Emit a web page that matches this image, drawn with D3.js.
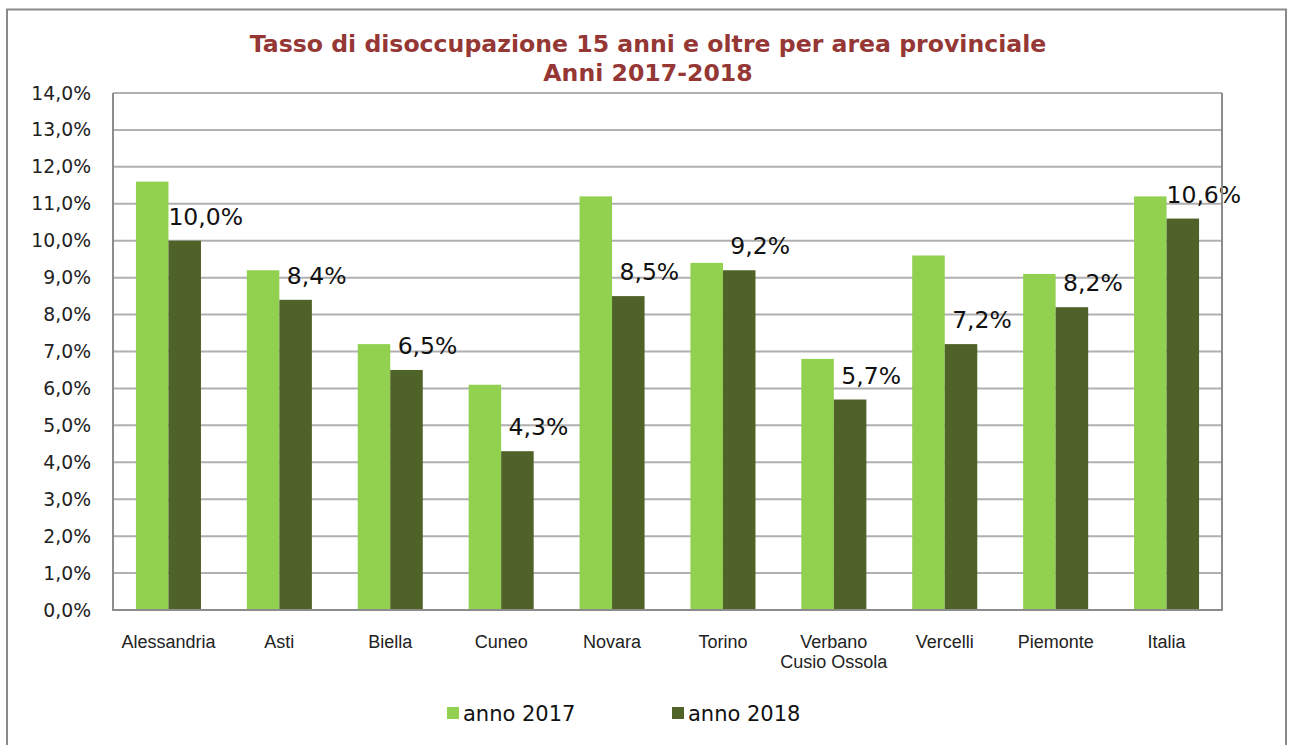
<!DOCTYPE html>
<html>
<head>
<meta charset="utf-8">
<script src="https://cdn.jsdelivr.net/npm/d3@7"></script>
<style>
  html, body { margin: 0; padding: 0; background: #fff; }
  svg { display: block; }
</style>
</head>
<body>
<svg id="chart" width="1289" height="745"></svg>
<script>
const titleLines = ["Tasso di disoccupazione 15 anni e oltre per area provinciale", "Anni 2017-2018"];
const categories = ["Alessandria", "Asti", "Biella", "Cuneo", "Novara", "Torino", "Verbano\nCusio Ossola", "Vercelli", "Piemonte", "Italia"];
const seriesNames = ["anno 2017", "anno 2018"];
const values2017 = [0.116, 0.092, 0.072, 0.061, 0.112, 0.094, 0.068, 0.096, 0.091, 0.112];
const values2018 = [0.100, 0.084, 0.065, 0.043, 0.085, 0.092, 0.057, 0.072, 0.082, 0.106];
const yTicks = [0, 0.01, 0.02, 0.03, 0.04, 0.05, 0.06, 0.07, 0.08, 0.09, 0.10, 0.11, 0.12, 0.13, 0.14];

const colors = { "anno 2017": "#92D050", "anno 2018": "#4F6228" };
const locale = d3.formatLocale({ decimal: ",", thousands: ".", grouping: [3], currency: ["", "\u20ac"] });
const pct = locale.format(".1%");

const svg = d3.select("#chart");
const plot = { left: 113, right: 1222, top: 93, bottom: 610 };

// outer frame
svg.append("rect").attr("x", 7).attr("y", 9.5).attr("width", 1279).attr("height", 745)
  .attr("fill", "#fff").attr("stroke", "#8a8a8a").attr("stroke-width", 2);

// title
const title = svg.append("text").attr("text-anchor", "middle")
  .attr("font-family", "DejaVu Sans, Verdana, sans-serif").attr("font-weight", "bold")
  .attr("font-size", 23.6).attr("fill", "#953735");
title.selectAll("tspan").data(titleLines).join("tspan")
  .attr("x", 648).attr("y", (d, i) => 52 + i * 29).text(d => d);

const x0 = d3.scaleBand().domain(categories).range([plot.left, plot.right]).padding(0);
const x1 = d3.scaleBand().domain(seriesNames).range([0, x0.bandwidth()]).paddingInner(0).paddingOuter(0.705);
const y = d3.scaleLinear().domain([0, 0.14]).range([plot.bottom, plot.top]);

// gridlines
svg.append("g").selectAll("line").data(yTicks.filter(t => t > 0)).join("line")
  .attr("x1", plot.left).attr("x2", plot.right)
  .attr("y1", d => y(d)).attr("y2", d => y(d))
  .attr("stroke", "#b0b0b0").attr("stroke-width", 2);

// y axis labels
const yAxis = d3.axisLeft(y).tickValues(yTicks).tickFormat(pct).tickSize(0).tickPadding(22);
const gy = svg.append("g").attr("transform", `translate(${plot.left},0)`).call(yAxis);
gy.select(".domain").remove();
gy.selectAll("text").attr("font-family", "DejaVu Sans, Verdana, sans-serif")
  .attr("font-size", 18.8).attr("fill", "#222");

// bars
const rows = categories.map((c, i) => ({ cat: c, vals: [values2017[i], values2018[i]] }));
const groups = svg.append("g").selectAll("g").data(rows).join("g")
  .attr("transform", d => `translate(${x0(d.cat)},0)`);
groups.selectAll("rect").data(d => d.vals.map((v, j) => ({ s: seriesNames[j], v }))).join("rect")
  .attr("x", d => x1(d.s)).attr("width", x1.bandwidth())
  .attr("y", d => y(d.v)).attr("height", d => y(0) - y(d.v))
  .attr("fill", d => colors[d.s]);

// data labels (2018 series)
groups.append("text")
  .attr("x", x1("anno 2018") + x1.bandwidth() / 2 + 21)
  .attr("y", d => y(d.vals[1]) - 16)
  .attr("text-anchor", "middle")
  .attr("font-family", "DejaVu Sans, Verdana, sans-serif").attr("font-size", 23.5).attr("fill", "#111")
  .text(d => pct(d.vals[1]));

// plot frame (left axis, bottom axis, right border)
svg.append("line").attr("x1", plot.left).attr("x2", plot.left).attr("y1", plot.top).attr("y2", plot.bottom)
  .attr("stroke", "#8c8c8c").attr("stroke-width", 2);
svg.append("line").attr("x1", plot.right).attr("x2", plot.right).attr("y1", plot.top).attr("y2", plot.bottom)
  .attr("stroke", "#8c8c8c").attr("stroke-width", 2);
svg.append("line").attr("x1", plot.left - 1).attr("x2", plot.right + 1).attr("y1", plot.bottom).attr("y2", plot.bottom)
  .attr("stroke", "#8c8c8c").attr("stroke-width", 2);

// x axis category labels
const xAxis = d3.axisBottom(x0).tickSize(0).tickPadding(0);
const gx = svg.append("g").attr("transform", `translate(0,${plot.bottom})`).call(xAxis);
gx.select(".domain").remove();
gx.selectAll("text").each(function(d) {
  const t = d3.select(this);
  const lines = d.split("\n");
  t.text(null).attr("y", 0).attr("dy", null)
    .attr("font-family", "Liberation Sans, Arial, sans-serif").attr("font-size", 18).attr("fill", "#222");
  lines.forEach((ln, i) => t.append("tspan").attr("x", 0).attr("y", 37.5 + i * 20).text(ln));
});

// legend
const legendX = [447, 672];
const lg = svg.append("g").selectAll("g").data(seriesNames).join("g")
  .attr("transform", (d, i) => `translate(${legendX[i]},707)`);
lg.append("rect").attr("width", 12).attr("height", 12).attr("fill", d => colors[d]);
lg.append("text").attr("x", 16).attr("y", 13.5)
  .attr("font-family", "DejaVu Sans, Verdana, sans-serif").attr("font-size", 21).attr("fill", "#111")
  .text(d => d);
</script>
</body>
</html>
